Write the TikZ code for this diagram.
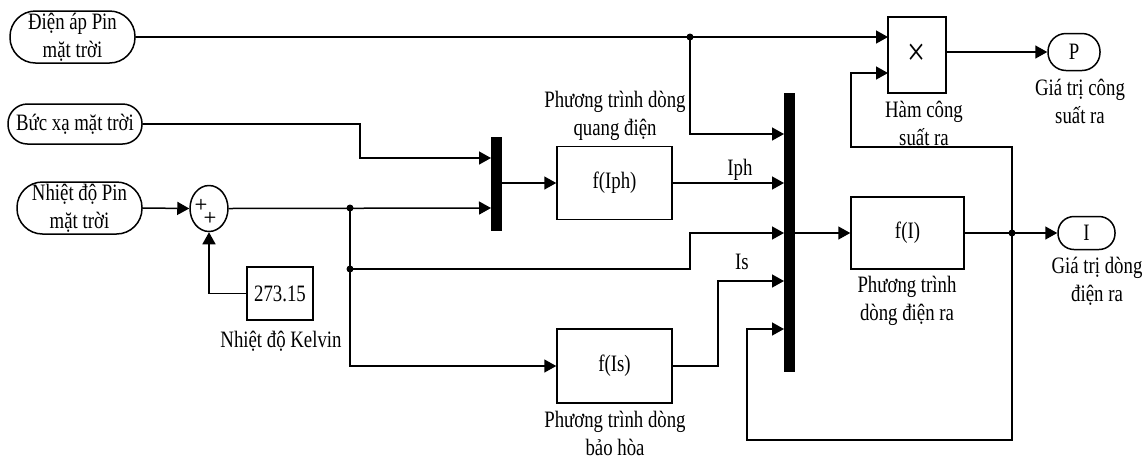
\documentclass[tikz,border=0pt]{standalone}
\usepackage{fontspec}
\setmainfont{Liberation Serif}[FakeStretch=0.8]
\usetikzlibrary{arrows.meta,shapes.geometric}
\begin{document}
\begin{tikzpicture}[x=1pt,y=-1pt,
  wire/.style={line width=1.5pt},
  arr/.style={wire,-{Triangle[length=12pt,width=13pt]}},
  txt/.style={font=\fontsize{23.5}{28}\selectfont},
  blk/.style={draw,line width=1.5pt,inner sep=0pt,txt},
  term/.style={draw,line width=1.5pt,inner sep=0pt},
  lbl/.style={align=center,inner sep=0pt,txt},
  bar/.style={fill=black,inner sep=0pt,minimum width=11pt},
  jdot/.style={circle,fill=black,inner sep=0pt,minimum size=7pt}]
\useasboundingbox (0,0) rectangle (1148,459);

% terminators
\node[term,rounded corners=25.5pt,minimum width=125pt,minimum height=52pt,label={[lbl]center:Điện áp Pin\\mặt trời}] (vin) at (72.5,37) {};
\node[term,rounded corners=19.5pt,minimum width=134pt,minimum height=40pt,label={[lbl]center:Bức xạ mặt trời}] (rad) at (75,124) {};
\node[term,rounded corners=25.5pt,minimum width=125pt,minimum height=52pt,label={[lbl]center:Nhiệt độ Pin\\mặt trời}] (temp) at (79.5,208) {};
\node[term,rounded corners=18pt,minimum width=52pt,minimum height=37pt,label={[lbl]center:P}] (P) at (1074,52) {};
\node[term,rounded corners=16pt,minimum width=57pt,minimum height=33pt,label={[lbl]center:I}] (I) at (1086.5,233) {};

% sum
\node[ellipse,draw,line width=1.5pt,minimum width=38pt,minimum height=46pt,inner sep=0pt] (sum) at (209,208.5) {};
\node[inner sep=0pt,font=\fontsize{15}{15}\selectfont\sffamily\bfseries] (s1) at (201,205) {+};
\node[inner sep=0pt,font=\fontsize{15}{15}\selectfont\sffamily\bfseries] (s2) at (210,218) {+};

% blocks
\node[blk,minimum width=66pt,minimum height=53pt] (kel) at (280,293.5) {273.15};
\node[blk,minimum width=115pt,minimum height=73pt] (fiph) at (614.5,183) {f(Iph)};
\node[blk,minimum width=115pt,minimum height=74pt] (fis) at (614.5,366) {f(Is)};
\node[blk,minimum width=113pt,minimum height=72pt] (fI) at (907.5,233) {f(I)};
\node[blk,minimum width=58pt,minimum height=76pt,font=\fontsize{40}{40}\selectfont] (mult) at (917,55) {×};

% mux bars
\node[bar,minimum height=94pt] (mux1) at (496.5,184) {};
\node[bar,minimum height=279pt] (mux2) at (789.5,232.5) {};

% labels
\node[lbl] (lkel) at (281,341) {Nhiệt độ Kelvin};
\node[lbl] (liph) at (615,116) {Phương trình dòng\\quang điện};
\node[lbl] (lis) at (615,433) {Phương trình dòng\\bảo hòa};
\node[lbl] (lfI) at (907,301) {Phương trình\\dòng điện ra};
\node[lbl] (lmult) at (924,123) {Hàm công\\suất ra};
\node[lbl] (lP) at (1080,101) {Giá trị công\\suất ra};
\node[lbl] (lI) at (1097,281) {Giá trị dòng\\điện ra};
\node[lbl] (tiph) at (740,170) {Iph};
\node[lbl] (tis) at (742,262) {Is};

% ports and bends
\coordinate (m1) at (888,37);
\coordinate (m2) at (888,73);
\coordinate (xa) at (784,134);
\coordinate (xb) at (784,183);
\coordinate (xc) at (784,233);
\coordinate (xd) at (784,281);
\coordinate (xe) at (784,329);
\coordinate (ya) at (491,158);
\coordinate (yb) at (491,208);
\coordinate (k1) at (360,158);
\coordinate (k2) at (690,269);
\coordinate (k3) at (718,281);
\coordinate (k4) at (851,147);
\coordinate (k5) at (747,440);

\node[jdot] (j1) at (690,37) {};
\node[jdot] (j2) at (350,208) {};
\node[jdot] (j3) at (350,269) {};
\node[jdot] (j4) at (1012,233) {};

% connectors
\draw[arr] (vin.east) -- (m1);
\draw[arr] (j1.center) |- (xa);
\draw[arr] (rad.east) -| (k1) -- (ya);
\draw[arr] (temp.east) -- (sum.west);
\draw[arr] (sum.east) -- (yb);
\draw[arr] (kel.west) -| (sum.south);
\draw[wire] (j2.center) -- (j3.center);
\draw[arr] (j3.center) -- (k2) |- (xc);
\draw[arr] (j3.center) |- (fis.west);
\draw[arr] (mux1.east |- fiph.west) -- (fiph.west);
\draw[arr] (fiph.east) -- (xb);
\draw[arr] (fis.east) -| (k3) -- (xd);
\draw[arr] (mux2.east |- fI.west) -- (fI.west);
\draw[arr] (fI.east) -- (I.west);
\draw[arr] (j4.center) |- (k4) |- (m2);
\draw[arr] (j4.center) |- (k5) |- (xe);
\draw[arr] (mult.east |- P.west) -- (P.west);
\end{tikzpicture}
\end{document}
